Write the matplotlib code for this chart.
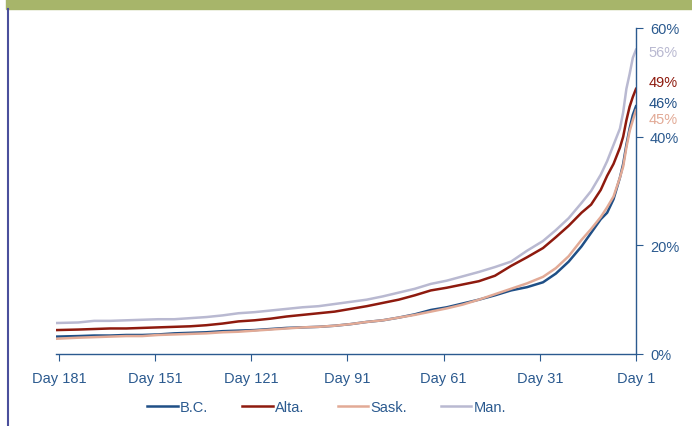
import matplotlib.pyplot as plt
from matplotlib.patches import Rectangle
from matplotlib.lines import Line2D

# Datos (porcentaje por dia antes del cierre)
days = [182, 175, 170, 165, 160, 155, 150, 145, 140, 135, 130, 125, 120, 115,
        110, 105, 100, 95, 90, 85, 80, 75, 70, 65, 60, 55, 50, 45, 40, 35, 30,
        26, 22, 18, 15, 12, 10, 8, 6, 5, 4, 3, 2, 1]

bc = [3.2, 3.3, 3.4, 3.4, 3.5, 3.5, 3.6, 3.8, 3.9, 4.0, 4.2, 4.3, 4.4, 4.6,
      4.8, 4.9, 5.0, 5.2, 5.5, 5.9, 6.2, 6.7, 7.3, 8.1, 8.6, 9.3, 10.0, 10.8,
      11.7, 12.3, 13.2, 14.8, 17.0, 19.8, 22.3, 24.8, 26.0, 28.5, 32.5, 35.0,
      38.5, 41.5, 44.0, 45.6]
alta = [4.4, 4.5, 4.6, 4.7, 4.7, 4.8, 4.9, 5.0, 5.1, 5.3, 5.6, 6.0, 6.2, 6.5,
        6.9, 7.2, 7.5, 7.8, 8.3, 8.8, 9.4, 10.0, 10.8, 11.7, 12.2, 12.8, 13.4,
        14.4, 16.2, 17.8, 19.5, 21.5, 23.6, 26.0, 27.5, 30.2, 32.8, 35.0, 38.0,
        40.0, 43.0, 45.5, 47.3, 48.8]
sask = [2.8, 3.0, 3.1, 3.2, 3.3, 3.3, 3.5, 3.6, 3.7, 3.8, 4.0, 4.1, 4.3, 4.5,
        4.7, 4.9, 5.0, 5.2, 5.5, 5.9, 6.2, 6.7, 7.2, 7.8, 8.4, 9.1, 10.0, 11.0,
        12.0, 13.0, 14.2, 15.8, 18.0, 21.0, 23.0, 25.2, 27.0, 29.0, 32.5, 34.5,
        38.0, 41.0, 43.0, 44.9]
man = [5.7, 5.8, 6.1, 6.1, 6.2, 6.3, 6.4, 6.4, 6.6, 6.8, 7.1, 7.5, 7.7, 8.0,
       8.3, 8.6, 8.8, 9.2, 9.6, 10.0, 10.6, 11.3, 12.0, 12.9, 13.5, 14.3, 15.1,
       16.0, 17.0, 19.0, 20.8, 22.8, 25.0, 27.8, 30.0, 33.0, 35.5, 38.5, 41.5,
       44.5, 48.8, 51.5, 54.5, 56.0]

series = ['B.C.', 'Alta.', 'Sask.', 'Man.']
valores = [bc, alta, sask, man]
colores = ['#1f4f86', '#8e1a0e', '#e2aa96', '#b9b9d1']
# posicion vertical de las etiquetas finales (para que no se encimen)
pos_etiqueta = [46.2, 50.0, 43.2, 55.5]

xticks = [181, 151, 121, 91, 61, 31, 1]
xlabels = ['Day 181', 'Day 151', 'Day 121', 'Day 91', 'Day 61', 'Day 31', 'Day 1']
yticks = [0, 20, 40, 60]

azul = '#2b5a8f'
plt.rcParams['font.family'] = ['Liberation Sans', 'DejaVu Sans']

fig = plt.figure(figsize=(6.92, 4.27), dpi=100)

# Banda verde superior y linea del borde izquierdo
fig.patches.append(Rectangle((6 / 692, 1 - 10 / 427), 1, 10 / 427,
                             transform=fig.transFigure, color='#a7b56a', zorder=0))
fig.add_artist(Line2D([7.5 / 692, 7.5 / 692], [0, 1 - 10 / 427],
                      transform=fig.transFigure, color='#4a4f9c', lw=1.5))

ax = fig.add_axes([56 / 692, 1 - 355 / 427, 580 / 692, 326 / 427])

for nombre, vals, col in zip(series, valores, colores):
    ax.plot(days, vals, color=col, lw=1.8, label=nombre)

for vals, col, py in zip(valores, colores, pos_etiqueta):
    ax.annotate(f'{vals[-1]:.0f}%', xy=(1, py), xytext=(9, 0),
                textcoords='offset points', color=col, fontsize=10.5,
                va='center', ha='left', annotation_clip=False)

ax.set_xlim(181.9, 1)
ax.set_ylim(0, 60)
ax.set_xticks(xticks)
ax.set_xticklabels(xlabels)
ax.set_yticks(yticks)
ax.set_yticklabels([f'{v}%' for v in yticks])

ax.yaxis.tick_right()
for lado in ['left', 'top']:
    ax.spines[lado].set_visible(False)
for lado in ['right', 'bottom']:
    ax.spines[lado].set_color(azul)
    ax.spines[lado].set_linewidth(1)
ax.tick_params(axis='both', colors=azul, labelsize=10.5, direction='out', length=5)
ax.tick_params(axis='x', pad=7)
ax.tick_params(axis='y', pad=5)

fig.legend(loc='center', bbox_to_anchor=(0.472, 0.044), ncol=4, frameon=False,
           fontsize=10.5, handlelength=2.1, columnspacing=2.3, handletextpad=0.15,
           labelcolor=azul)

fig.savefig('out.png', dpi=100)
